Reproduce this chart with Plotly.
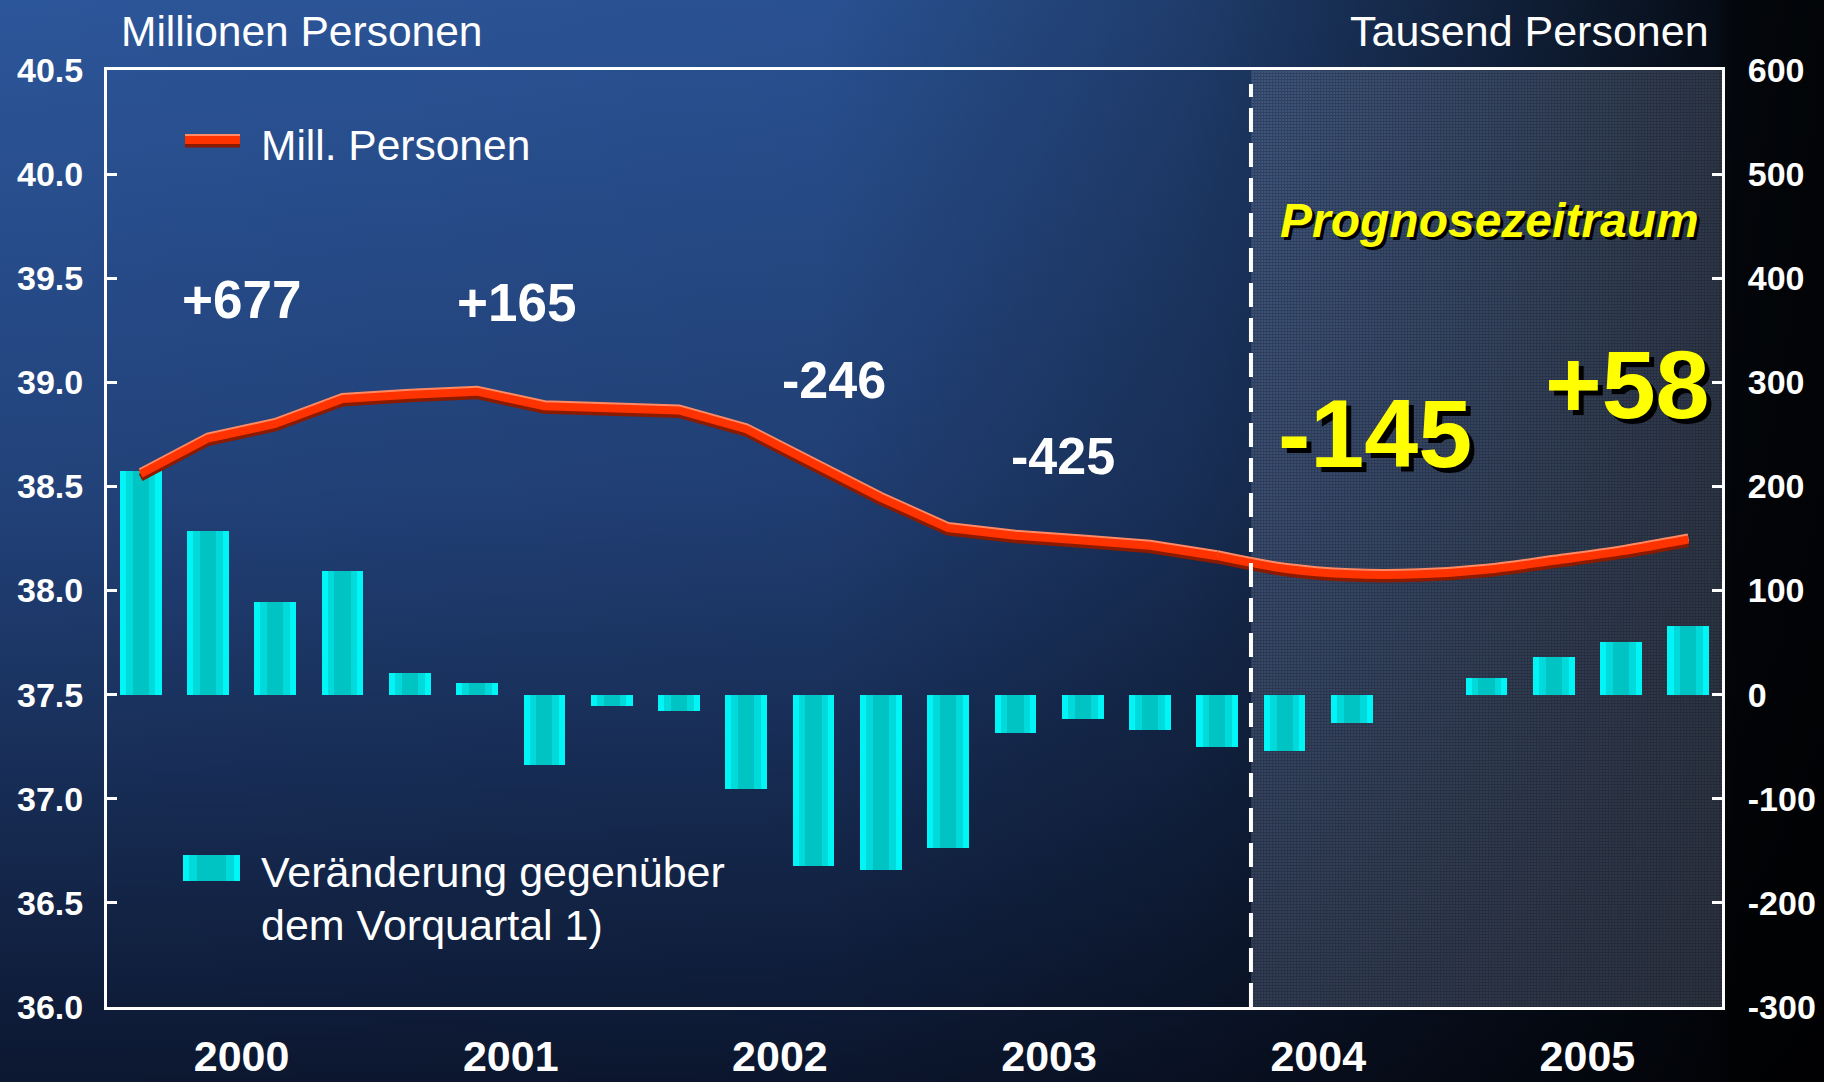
import base64
import plotly.graph_objects as go

# ---------------- data ----------------
years = [2000, 2001, 2002, 2003, 2004, 2005]
quarters = [f"{y} Q{q}" for y in years for q in (1, 2, 3, 4)]

# Erwerbstätige, Millionen Personen (left axis)
employment_mill = [38.56, 38.73, 38.80, 38.92, 38.94, 38.955, 38.885, 38.875,
                   38.865, 38.775, 38.61, 38.445, 38.30, 38.263, 38.24, 38.215,
                   38.165, 38.105, 38.078, 38.078, 38.10, 38.143, 38.188, 38.245]

# Veränderung gegenüber dem Vorquartal, Tausend Personen (right axis)
change_thousand = [215, 157, 89, 119, 21, 11, -68, -11,
                   -16, -91, -165, -168, -147, -37, -23, -34,
                   -50, -54, -27, 0, 16, 36, 51, 66]

# Jahresveränderung, Tausend Personen (annotations)
annual_change = [677, 165, -246, -425, -145, 58]

forecast_start = 17          # first forecast quarter index (2004 Q2)
left_ticks = [36.0, 36.5, 37.0, 37.5, 38.0, 38.5, 39.0, 39.5, 40.0, 40.5]
right_ticks = [-300, -200, -100, 0, 100, 200, 300, 400, 500, 600]

line_name = "Mill. Personen"
bar_name_lines = ["Veränderung gegenüber", "dem Vorquartal 1)"]

# ---------------- layout constants ----------------
W, H = 1824, 1082
ML, MR, MT, MB = 107, 102, 70, 75
PW, PH = W - ML - MR, H - MT - MB
FONT = "Liberation Sans, Arial, sans-serif"
LRANGE = [36.0, 40.5]
RRANGE = [-300, 600]

x = list(range(len(quarters)))
n = len(x)


def px_x(p):   # figure pixel -> paper x
    return (p - ML) / PW


def px_y(p):   # figure pixel -> paper y
    return (MT + PH - p) / PH


# background gradient svg
bg_svg = f'''<svg xmlns="http://www.w3.org/2000/svg" width="{W}" height="{H}" viewBox="0 0 {W} {H}" preserveAspectRatio="none">
<defs>
<linearGradient id="v" x1="0" y1="0" x2="0" y2="1">
<stop offset="0" stop-color="#2c569a"/>
<stop offset="0.45" stop-color="#22427a"/>
<stop offset="1" stop-color="#0c1730"/>
</linearGradient>
<linearGradient id="h" x1="0" y1="0" x2="1" y2="0">
<stop offset="0" stop-color="#000" stop-opacity="0"/>
<stop offset="0.45" stop-color="#000" stop-opacity="0.06"/>
<stop offset="0.65" stop-color="#000" stop-opacity="0.3"/>
<stop offset="0.82" stop-color="#000" stop-opacity="0.62"/>
<stop offset="0.94" stop-color="#000" stop-opacity="0.85"/>
<stop offset="0.95" stop-color="#000" stop-opacity="0.93"/>
<stop offset="1" stop-color="#000" stop-opacity="0.95"/>
</linearGradient>
</defs>
<rect width="{W}" height="{H}" fill="url(#v)"/>
<rect width="{W}" height="{H}" fill="url(#h)"/>
</svg>'''

fc_w = int(round(PW * (n - forecast_start) / n))
fc_svg = f'''<svg xmlns="http://www.w3.org/2000/svg" width="{fc_w}" height="{PH}" viewBox="0 0 {fc_w} {PH}" preserveAspectRatio="none">
<defs>
<pattern id="p" width="3" height="3" patternUnits="userSpaceOnUse">
<rect width="3" height="3" fill="#aabbdc" fill-opacity="0.25"/>
<path d="M0 0.5H3M0.5 0V3" stroke="#08101f" stroke-opacity="0.28" stroke-width="1"/>
</pattern>
</defs>
<rect width="{fc_w}" height="{PH}" fill="url(#p)"/>
</svg>'''


def svg_uri(s):
    return "data:image/svg+xml;base64," + base64.b64encode(s.encode()).decode()


fig = go.Figure()

# ---------------- bars (3 layers for a cylinder look) ----------------
bar_layers = [(0.62, "#00f6f6"), (0.44, "#00dada"), (0.24, "#00c3c3")]
for w, col in bar_layers:
    fig.add_trace(go.Bar(
        x=x, y=change_thousand, width=w, yaxis="y",
        marker=dict(color=col, line=dict(width=0)),
        name=" ".join(bar_name_lines), showlegend=False,
        hovertext=quarters, hoverinfo="text+y",
    ))

# ---------------- line (shadow, highlight, main) ----------------
px_per_unit = PH / (LRANGE[1] - LRANGE[0])
line_layers = [("y2", "#8a1a00"), ("y3", "#ff8a66"), ("y4", "#ff3300")]
hist_idx = slice(0, forecast_start)
fc_idx = slice(forecast_start - 1, n)
for ax, col in line_layers:
    fig.add_trace(go.Scatter(
        x=x[hist_idx], y=employment_mill[hist_idx], yaxis=ax, mode="lines",
        line=dict(color=col, width=8, shape="linear"),
        name=line_name, showlegend=False,
        hovertext=quarters[hist_idx], hoverinfo="text+y",
    ))
    fig.add_trace(go.Scatter(
        x=x[fc_idx], y=employment_mill[fc_idx], yaxis=ax, mode="lines",
        line=dict(color=col, width=8, shape="spline", smoothing=1.0),
        name=line_name, showlegend=False,
        hovertext=quarters[fc_idx], hoverinfo="text+y",
    ))

d_shadow = 3.5 / px_per_unit
d_high = 2.0 / px_per_unit

axis_font = dict(family=FONT, size=34, color="white", weight="bold")
xr = [-0.5, n - 0.5]
year_centers = [4 * i + 1.5 for i in range(len(years))]
year_bounds = [4 * i - 0.5 for i in range(1, len(years))]
zero_pos = (0 - RRANGE[0]) / (RRANGE[1] - RRANGE[0])

fig.update_layout(
    width=W, height=H,
    margin=dict(l=ML, r=MR, t=MT, b=MB, pad=0, autoexpand=False),
    paper_bgcolor="#0c162c", plot_bgcolor="rgba(0,0,0,0)",
    barmode="overlay", bargap=0, showlegend=False,
    font=dict(family=FONT, color="white"),
    xaxis=dict(range=xr, showgrid=False, zeroline=False, automargin=False,
               showline=True, linecolor="white", linewidth=3, mirror=True,
               tickmode="array", tickvals=year_centers, ticktext=[str(y) for y in years],
               ticks="", tickfont=dict(family=FONT, size=43, color="white", weight="bold"),
               ticklabelstandoff=9),
    xaxis2=dict(range=xr, overlaying="x", anchor="free", position=0, showgrid=False,
                zeroline=False, showline=False, tickmode="array", tickvals=year_bounds,
                ticks="inside", ticklen=10, tickwidth=3, tickcolor="white",
                showticklabels=False, automargin=False),
    xaxis3=dict(range=xr, overlaying="x", anchor="free", position=zero_pos,
                showgrid=False, zeroline=False, showline=True, linecolor="white",
                linewidth=4, tickmode="array", tickvals=year_bounds,
                ticks="inside", ticklen=14, tickwidth=3, tickcolor="white",
                showticklabels=False, automargin=False),
    xaxis4=dict(range=xr, overlaying="x", anchor="free", position=zero_pos,
                showgrid=False, zeroline=False, showline=False,
                tickmode="array", tickvals=year_bounds,
                ticks="outside", ticklen=14, tickwidth=3, tickcolor="white",
                showticklabels=False, automargin=False),
    yaxis=dict(range=RRANGE, side="right", showgrid=False, zeroline=False,
               showline=True, linecolor="white", linewidth=3, automargin=False,
               tickmode="array", tickvals=right_ticks,
               ticktext=[str(v) for v in right_ticks],
               ticks="inside", ticklen=10, tickwidth=3, tickcolor="white",
               tickfont=axis_font, ticklabelstandoff=16),
    yaxis2=dict(range=[LRANGE[0] + d_shadow, LRANGE[1] + d_shadow], overlaying="y",
                visible=False, automargin=False),
    yaxis3=dict(range=[LRANGE[0] - d_high, LRANGE[1] - d_high], overlaying="y",
                visible=False, automargin=False),
    yaxis4=dict(range=LRANGE, overlaying="y", side="left", showgrid=False, zeroline=False,
                showline=True, linecolor="white", linewidth=3, automargin=False,
                tickmode="array", tickvals=left_ticks, tickformat=".1f",
                ticks="inside", ticklen=10, tickwidth=3, tickcolor="white",
                tickfont=axis_font, ticklabelstandoff=14),
    hovermode="closest",
)

fig.add_layout_image(dict(source=svg_uri(bg_svg), xref="paper", yref="paper",
                          x=-ML / PW, y=1 + MT / PH, sizex=W / PW, sizey=H / PH,
                          xanchor="left", yanchor="top", sizing="stretch", layer="below"))
fig.add_layout_image(dict(source=svg_uri(fc_svg), xref="x", yref="paper",
                          x=forecast_start - 0.5, y=1, sizex=xr[1] - (forecast_start - 0.5),
                          sizey=1, xanchor="left", yanchor="top", sizing="stretch",
                          layer="below"))

# forecast boundary (dashed)
fig.add_shape(type="line", xref="x", yref="paper", x0=forecast_start - 0.5,
              x1=forecast_start - 0.5, y0=0.0, y1=0.985,
              line=dict(color="white", width=4, dash="24px,11px"))

# ---------------- custom legend ----------------
for dy, col in [(3.5, "#8a1a00"), (-2.0, "#ff8a66"), (0.0, "#ff3300")]:
    fig.add_shape(type="line", xref="paper", yref="paper",
                  x0=px_x(185), x1=px_x(240), y0=px_y(140 + dy), y1=px_y(140 + dy),
                  line=dict(color=col, width=8))
fig.add_annotation(text=line_name, xref="paper", yref="paper", x=px_x(259), y=px_y(145),
                   xanchor="left", yanchor="middle", showarrow=False,
                   font=dict(family=FONT, size=42.5, color="white"))
for inset, col in [(0, "#00f6f6"), (6, "#00dada"), (14, "#00c3c3")]:
    fig.add_shape(type="rect", xref="paper", yref="paper",
                  x0=px_x(183 + inset), x1=px_x(240 - inset), y0=px_y(881), y1=px_y(855),
                  fillcolor=col, line=dict(width=0))
for txt, py in zip(bar_name_lines, [872, 925]):
    fig.add_annotation(text=txt, xref="paper", yref="paper", x=px_x(259), y=px_y(py),
                       xanchor="left", yanchor="middle", showarrow=False,
                       font=dict(family=FONT, size=43, color="white"))

# axis unit titles
fig.add_annotation(text="Millionen Personen", xref="paper", yref="paper",
                   x=px_x(119), y=px_y(31), xanchor="left", yanchor="middle",
                   showarrow=False, font=dict(family=FONT, size=42.5, color="white"))
fig.add_annotation(text="Tausend Personen", xref="paper", yref="paper",
                   x=px_x(1711), y=px_y(31), xanchor="right", yanchor="middle",
                   showarrow=False, font=dict(family=FONT, size=43, color="white"))

# annual change labels
label_x = [1.5, 5.58, 10.3, 13.7, 18.35, 22.1]
label_y = [380, 377, 302, 229, 251, 298]
label_size = [53, 53, 52, 52, 97, 97]
label_color = ["white", "white", "white", "white", "#ffff00", "#ffff00"]
label_shadow = [None, None, None, None, "5px 5px 0px #000000", "5px 5px 0px #000000"]
for v, lx, ly, sz, col, sh in zip(annual_change, label_x, label_y, label_size,
                                  label_color, label_shadow):
    f = dict(family=FONT, size=sz, color=col, weight="bold")
    if sh:
        f["shadow"] = sh
    fig.add_annotation(text=f"{v:+d}", xref="x", yref="y", x=lx, y=ly,
                       showarrow=False, font=f)

# forecast label
fig.add_annotation(text="Prognosezeitraum", xref="x", yref="y", x=20.05, y=455,
                   showarrow=False,
                   font=dict(family=FONT, size=48, color="#ffff00", weight="bold",
                             style="italic", shadow="3px 3px 0px #000000"))

fig.write_html("out.html",
               config={"displayModeBar": False},
               post_script="document.body.style.margin='0';"
                           "document.body.style.overflow='hidden';")
